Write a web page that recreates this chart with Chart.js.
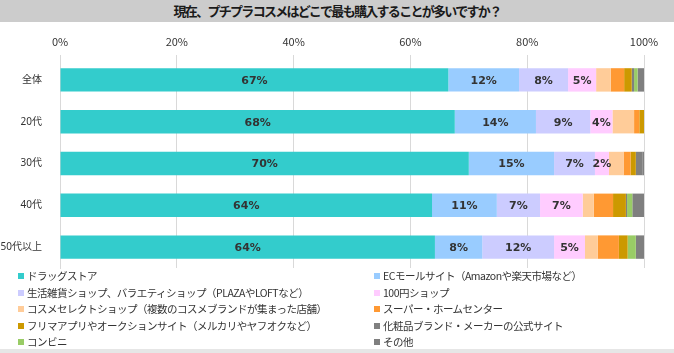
<!DOCTYPE html>
<html lang="ja">
<head>
<meta charset="utf-8">
<script src="https://cdn.jsdelivr.net/npm/chart.js@4.4.1/dist/chart.umd.min.js"></script>
<style>
  body { margin: 0; background: #fff; font-family: "Noto Sans CJK JP", sans-serif; }
  #wrap { position: relative; width: 674px; height: 353px; overflow: hidden; }
  #title { position: absolute; left: 0; top: 0; width: 674px; height: 22px; background: #cccccc;
    text-align: center; line-height: 22px; font-size: 13px; font-weight: bold; color: #1a1a1a;
    letter-spacing: -1.7px; }
  #chart { position: absolute; left: 0; top: 22px; }
  #legend { position: absolute; left: 0; top: 268px; width: 674px; font-size: 10.5px; color: #333;
    letter-spacing: -0.5px; }
  .item { position: absolute; height: 16px; line-height: 16px; white-space: nowrap; }
  .item i { display: inline-block; width: 6px; height: 6px; margin-right: 3px; vertical-align: 1px; }
  #bottomBand { position: absolute; left: 0; top: 349px; width: 674px; height: 4px; background: #e6e6e6; }
</style>
</head>
<body>
<div id="wrap">
  <div id="title">現在、プチプラコスメはどこで最も購入することが多いですか？</div>
  <canvas id="chart" width="674" height="248"></canvas>
  <div id="legend"></div>
  <div id="bottomBand"></div>
</div>
<script>
// 年代（行）
const groups = ['全体', '20代', '30代', '40代', '50代以上'];

// 購入場所（凡例の順）
const shops = [
  'ドラッグストア',
  'ECモールサイト（Amazonや楽天市場など）',
  '生活雑貨ショップ、バラエティショップ（PLAZAやLOFTなど）',
  '100円ショップ',
  'コスメセレクトショップ（複数のコスメブランドが集まった店舗）',
  'スーパー・ホームセンター',
  'フリマアプリやオークションサイト（メルカリやヤフオクなど）',
  '化粧品ブランド・メーカーの公式サイト',
  'コンビニ',
  'その他'
];

const colors = ['#33cccc', '#99ccff', '#ccccff', '#ffccff', '#ffcc99',
  '#ff9933', '#cc9900', '#808080', '#99cc66', '#7f7f7f'];

// 各購入場所の割合（%）: 全体, 20代, 30代, 40代, 50代以上
const drugstore = [66.5, 67.6, 70.0, 63.7, 64.2];
const ecMall    = [12.1, 13.9, 14.6, 11.1, 8.1];
const variety   = [8.4, 9.3, 7.0, 7.4, 12.3];
const yen100    = [4.8, 3.8, 2.4, 7.3, 5.3];
const cosmeSel  = [2.5, 3.7, 2.5, 1.9, 2.2];
const superHome = [2.3, 0.9, 1.2, 3.3, 3.6];
const fleaApp   = [1.3, 0.8, 0.9, 2.2, 1.5];
const official  = [0.4, 0, 1.1, 0.2, 0];
const conveni   = [0.6, 0, 0, 0.9, 1.4];
const others    = [1.1, 0, 0.3, 2.0, 1.4];

const seriesValues = [drugstore, ecMall, variety, yen100, cosmeSel,
  superHome, fleaApp, official, conveni, others];

const xTicks = [0, 20, 40, 60, 80, 100];

// 数値ラベルを表示する系列（先頭4つ）
const labeledSeries = 4;

const datasets = shops.map((name, i) => ({
  label: name,
  data: seriesValues[i],
  backgroundColor: colors[i],
  borderWidth: 0,
  categoryPercentage: 0.56,
  barPercentage: 1
}));

// バーの中央に % を描く
const valueLabels = {
  id: 'valueLabels',
  afterDatasetsDraw(chart) {
    const ctx = chart.ctx;
    ctx.save();
    ctx.font = 'bold 11px "DejaVu Sans", sans-serif';
    ctx.fillStyle = '#333';
    ctx.textAlign = 'center';
    ctx.textBaseline = 'middle';
    for (let d = 0; d < labeledSeries; d++) {
      const meta = chart.getDatasetMeta(d);
      meta.data.forEach((bar, j) => {
        const v = chart.data.datasets[d].data[j];
        if (!v) return;
        const cx = (bar.x + bar.base) / 2;
        ctx.fillText(Math.round(v) + '%', cx, bar.y + 1);
      });
    }
    ctx.restore();
  }
};

const chart = new Chart(document.getElementById('chart'), {
  type: 'bar',
  data: { labels: groups, datasets: datasets },
  options: {
    indexAxis: 'y',
    responsive: false,
    animation: false,
    layout: { padding: { left: 0, right: 30, top: 0, bottom: 2 } },
    plugins: {
      legend: { display: false },
      title: { display: false },
      tooltip: { enabled: false }
    },
    scales: {
      x: {
        position: 'top',
        stacked: true,
        min: 0,
        max: 100,
        afterBuildTicks: scale => { scale.ticks = xTicks.map(v => ({ value: v })); },
        afterFit: scale => { scale.height = 37; },
        ticks: {
          padding: 7,
          color: '#333',
          font: { family: '"Noto Sans CJK JP", sans-serif', size: 11 },
          callback: v => v + '%'
        },
        grid: { color: '#d9d9d9', tickLength: 4, drawTicks: true },
        border: { display: false }
      },
      y: {
        stacked: true,
        afterFit: scale => {
          scale.width = 60;
          // ラベルは行の中央なので上下の余白は不要
          scale.paddingTop = 0;
          scale.paddingBottom = 0;
        },
        ticks: {
          padding: 10,
          color: '#333',
          font: { family: '"Noto Sans", "Noto Sans CJK JP", sans-serif', size: 10 }
        },
        grid: { display: false },
        border: { display: true, color: '#d9d9d9' }
      }
    }
  },
  plugins: [valueLabels]
});

// 凡例（2列）
const legend = document.getElementById('legend');
shops.forEach((name, i) => {
  const el = document.createElement('div');
  el.className = 'item';
  el.style.left = (i % 2 === 0 ? 18 : 374) + 'px';
  el.style.top = (Math.floor(i / 2) * 16.5) + 'px';
  el.innerHTML = '<i style="background:' + colors[i] + '"></i>' + name;
  legend.appendChild(el);
});
</script>
</body>
</html>
